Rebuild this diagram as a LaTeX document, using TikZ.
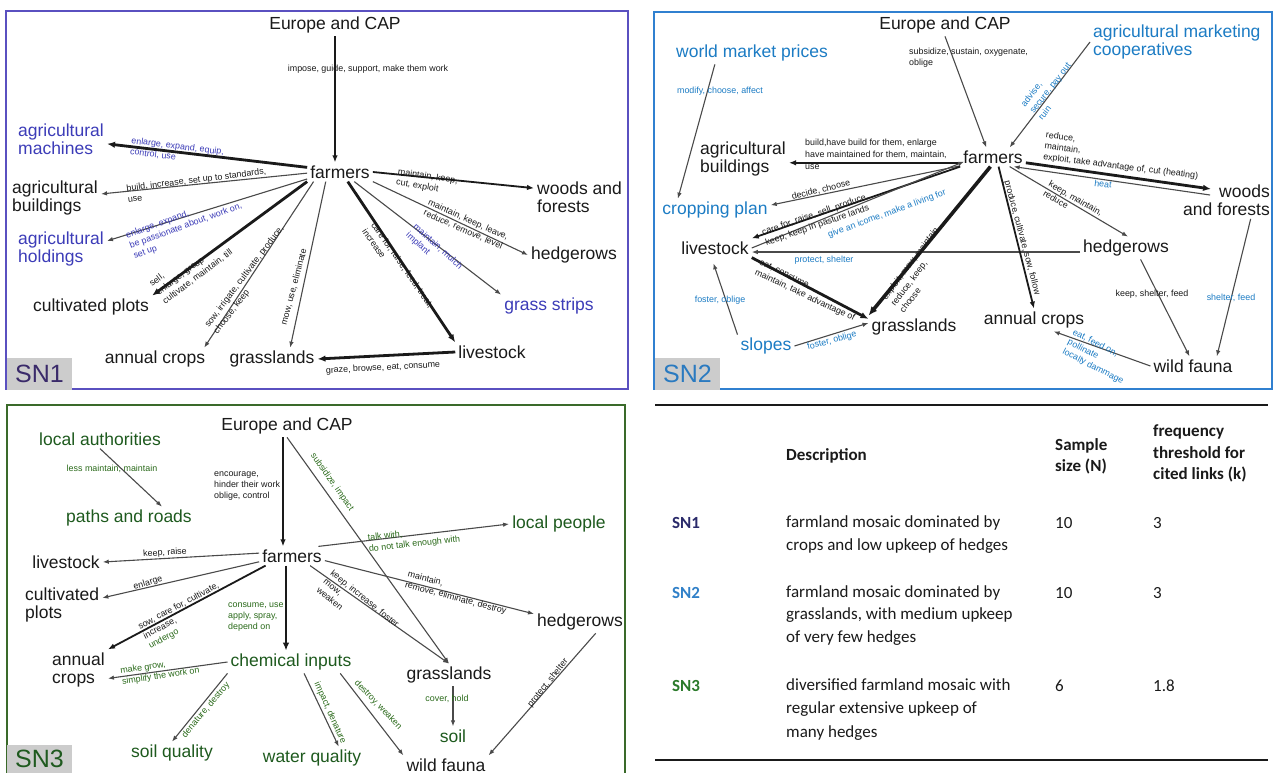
\documentclass[tikz,border=0pt]{standalone}
\usepackage{fontspec}
\setmainfont{Liberation Sans}
\newfontfamily\calfont{Carlito}
\usetikzlibrary{arrows.meta,calc}
\definecolor{bA}{HTML}{3C3CB8}
\definecolor{bB}{HTML}{1C7CC4}
\definecolor{gC}{HTML}{1E5A1E}
\definecolor{gL}{HTML}{2A6A1A}
\definecolor{frA}{HTML}{5A50C0}
\definecolor{frB}{HTML}{3080D0}
\definecolor{frC}{HTML}{3A6A2A}
\definecolor{ln}{HTML}{4A4A4A}
\definecolor{ink}{HTML}{1A1A1A}
\definecolor{snA}{HTML}{3A2A6A}
\definecolor{snB}{HTML}{2A7AC0}
\definecolor{snC}{HTML}{1F5A1F}
\definecolor{tA}{HTML}{2A2A6A}
\definecolor{tB}{HTML}{3080C8}
\definecolor{tC}{HTML}{2A7A2A}
\begin{document}
\begin{tikzpicture}[x=1pt,y=-1pt,
 nb/.style={font=\fontsize{17.5}{18.5}\selectfont, inner sep=3pt, text=ink, align=left},
 lab/.style={font=\fontsize{8.9}{11}\selectfont, inner sep=0pt, align=left, text=ink},
 thin/.style={draw=ln, line width=1.1pt, -{Latex[length=6pt,width=4.5pt]}},
 med/.style={draw=ink, line width=1.8pt, -{Latex[length=7pt,width=5.5pt]}},
 thk/.style={draw=ink, line width=2.8pt, -{Latex[length=8pt,width=6.5pt]}},
 vthk/.style={draw=ink, line width=3.6pt, -{Latex[length=9pt,width=7.5pt]}},
 panel/.style={line width=1.6pt},
 snlab/.style={fill=black!20, draw=none, minimum width=65pt, minimum height=32pt, inner sep=0pt, font=\fontsize{25}{25}\selectfont},
 tb/.style={font=\calfont\fontsize{17}{21.5}\selectfont, inner sep=0pt, anchor=west, align=left, text=ink},
]
\useasboundingbox (0,0) rectangle (1274,773);
\fill[white] (0,0) rectangle (1274,773);

% ---------------- panels ----------------
\draw[frA, panel] (6,11) rectangle (628,389);
\draw[frB, panel] (654,12) rectangle (1272,389);
\draw[frC, panel] (7,780) -- (7,405) -- (625,405) -- (625,780);
\node[snlab, text=snA] (sn1) at (39.5,374) {SN1};
\node[snlab, text=snB] (sn2) at (687.5,374) {SN2};
\node[snlab, text=snC, minimum height=28pt] (sn3) at (39.5,759) {SN3};

% ================= SN1 =================
\node[nb] (e1) at (335,25) {Europe and CAP};
\node[nb] (f1) at (340,172) {farmers};
\node[nb, text=bA, anchor=west] (m1) at (15,139) {agricultural\\machines};
\node[nb, anchor=west] (b1) at (9,198) {agricultural\\buildings};
\node[nb, text=bA, anchor=west] (h1) at (15,249) {agricultural\\holdings};
\node[nb] (c1) at (91,307) {cultivated plots};
\node[nb] (a1) at (155,359) {annual crops};
\node[nb] (g1) at (272,359) {grasslands};
\node[nb] (l1) at (492,352) {livestock};
\node[nb, anchor=west] (w1) at (534,197) {woods and\\forests};
\node[nb] (hg1) at (574,255) {hedgerows};
\node[nb, text=bA] (gs1) at (549,306) {grass strips};

\draw[med] (e1.south) -- (e1.south |- f1.north);
\draw[thk] (f1.172) -- (m1.-6);
\draw[thin] (f1.182) -- (b1.5);
\draw[thin] (f1.192) -- (h1.10);
\draw[thk] (f1.south west) -- (c1.north east);
\draw[thin] (f1.200) -- (a1.13);
\draw[thin] (f1.214) -- (g1.32);
\draw[thk] (f1.-51) -- (l1.north west);
\draw[thin] (f1.-34) -- (gs1.north west);
\draw[thin] (f1.south east) -- (hg1.west);
\draw[med] (f1.east) -- (w1.169);
\draw[thk] (l1.west) -- (g1.east);

\node[lab] (p1) at (368,69) {impose, guide, support, make them work};
\node[lab, text=bA, rotate=-7] (p2) at (177,152) {enlarge, expand, equip,\\control, use};
\node[lab, rotate=7] (p3) at (197,185) {build, increase, set up to standards,\\use};
\node[lab, text=bA, rotate=20] (p4) at (186,226) {enlarge, expand,\\be passionate about, work on,\\set up};
\node[lab, rotate=37] (p5) at (191,268) {sell,\\enlarge, group\\cultivate, maintain, till};
\node[lab, rotate=53] (p6) at (249,280) {sow, irrigate, cultivate, produce,\\choose, keep};
\node[lab, rotate=75] (p7) at (294,287) {mow, use, eliminate};
\node[lab, rotate=-55] (p8) at (398,268) {care for, raise, feed, treat,\\increase};
\node[lab, text=bA, rotate=-42] (p9) at (434,251) {maintain, mulch\\implant};
\node[lab, rotate=-24] (p10) at (466,225) {maintain, keep, leave,\\reduce, remove, level};
\node[lab, rotate=-9] (p11) at (427,182) {maintain, keep,\\cut, exploit};
\node[lab, rotate=3] (p12) at (383,368) {graze, browse, eat, consume};

% ================= SN2 =================
\node[nb] (e2) at (945,25) {Europe and CAP};
\node[nb, text=bB, anchor=west] (co) at (1090,42) {agricultural marketing\\cooperatives};
\node[nb, text=bB] (wm) at (752,53) {world market prices};
\node[nb] (f2) at (993,157) {farmers};
\node[nb, anchor=west] (b2) at (697,159) {agricultural\\buildings};
\node[nb, text=bB] (cp) at (715,210) {cropping plan};
\node[nb] (l2) at (715,248) {livestock};
\node[nb, anchor=east, align=right] (w2) at (1273,200) {woods\\and forests};
\node[nb] (hg2) at (1126,248) {hedgerows};
\node[nb] (gr2) at (914,327) {grasslands};
\node[nb] (ac2) at (1034,320) {annual crops};
\node[nb, text=bB] (sl) at (766,346) {slopes};
\node[nb] (wf2) at (1193,366) {wild fauna};

\draw[thin] (e2.south) -- (f2.125);
\draw[thin] (co.west) -- (f2.30);
\draw[thin] (wm.197) -- (cp.163);
\draw[med] (f2.190) -- (f2.190 -| b2.east);
\draw[thin] (f2.195) -- (cp.5);
\draw[med] (f2.south west) -- (l2.north east);
\coordinate (f2in) at ($(f2.south west)+(4,-5)$);
\draw[thin] (l2.east) -- (f2in);
\draw[thin] (hg2.185) -- (hg2.185 -| l2.east);
\coordinate (w2in) at ($(w2.west)+(31,-11)$);
\coordinate (w2out) at ($(w2.west)+(30,-5)$);
\draw[thk] (f2.-10) -- (w2in);
\draw[thin] (w2out) -- (f2.-25);
\draw[thin] (f2.-30) -- (hg2.80);
\draw[med] (f2.-60) -- (ac2.north);
\draw[vthk] (f2.-105) -- (gr2.north west);
\draw[thk] (l2.south east) -- (gr2.170);
\draw[thin, shorten >=6pt] (sl.north west) -- (l2.250);
\draw[thin] (sl.east) -- (gr2.175);
\draw[thin] (hg2.-38) -- (wf2.110);
\draw[thin] (w2.-38) -- (wf2.22);
\draw[thin] (wf2.west) -- (ac2.-30);

\node[lab, anchor=west] (q1) at (909,57.5) {subsidize, sustain, oxygenate,\\oblige};
\node[lab, text=bB, rotate=52] (q2) at (1050,88) {advise,\\secure, pay out\\ruin};
\node[lab, text=bB] (q3) at (720,91) {modify, choose, affect};
\node[lab, anchor=west, font=\fontsize{8.9}{12}\selectfont] (q4) at (805,154) {build,have build for them, enlarge\\have maintained for them, maintain,\\use};
\node[lab, rotate=14] (q5) at (821,190) {decide, choose};
\node[lab, rotate=19] (q6) at (817,220) {care for, raise, sell, produce,\\keep, keep in pasture lands};
\node[lab, text=bB, rotate=20] (q7) at (887,214) {give an icome, make a living for};
\node[lab, text=bB] (q8) at (824,260) {protect, shelter};
\node[lab, rotate=-7] (q9) at (1122,156) {reduce,\\maintain,\\exploit, take advantage of, cut (heating)};
\node[lab, text=bB, rotate=-7] (q10) at (1103,184) {heat};
\node[lab, rotate=-30] (q11) at (1073,203) {keep, maintain,\\reduce};
\node[lab, rotate=-75] (q12) at (1022,238) {produce, cultivate, sow, follow};
\node[lab, rotate=53] (q13) at (919,270) {exploit, mow, maintain\\reduce, keep,\\choose};
\node[lab, rotate=-25] (q14) at (807,291) {eat, consume,\\maintain, take advantage of};
\node[lab, text=bB] (q15) at (720,300) {foster, oblige};
\node[lab, text=bB, rotate=15] (q16) at (832,341) {foster, oblige};
\node[lab] (q17) at (1152,294) {keep, shelter, feed};
\node[lab, text=bB] (q18) at (1231,298) {shelter, feed};
\node[lab, text=bB, rotate=-27] (q19) at (1098,357) {eat, feed on,\\pollinate\\locally dammage};

% ================= SN3 =================
\node[nb, text=gC] (la) at (100,439) {local authorities};
\node[nb, text=gC] (pr) at (129,518) {paths and roads};
\node[nb] (e3) at (287,426) {Europe and CAP};
\node[nb] (f3) at (292,556) {farmers};
\node[nb, text=gC] (lp) at (559,524) {local people};
\node[nb] (ls3) at (66,562) {livestock};
\node[nb, anchor=west] (cp3) at (22,605) {cultivated\\plots};
\node[nb, anchor=west] (ac3) at (49,670) {annual\\crops};
\node[nb, text=gC] (ci) at (291,662) {chemical inputs};
\node[nb] (gr3) at (449,675) {grasslands};
\node[nb, text=gC] (so) at (453,736) {soil};
\node[nb] (hg3) at (580,622) {hedgerows};
\node[nb, text=gC] (sq) at (172,753) {soil quality};
\node[nb, text=gC] (wq) at (312,758) {water quality};
\node[nb] (wf3) at (446,765) {wild fauna};

\draw[thin] (la.south) -- (pr.19);
\coordinate (e3s) at ($(e3.south)+(-4,0)$);
\draw[med] (e3s) -- (e3s |- f3.north);
\draw[thin] (e3.south) -- (gr3.north);
\draw[thin] (f3.20) -- (lp.west);
\draw[thin] (f3.-8) -- (hg3.170);
\draw[thin] (f3.-28) -- (gr3.north);
\draw[thin] (f3.175) -- (ls3.east);
\draw[thin] (f3.190) -- (cp3.10);
\draw[med] (f3.200) -- (ac3.north east);
\coordinate (f3s) at ($(f3.south)+(-6,0)$);
\draw[thk] (f3s) -- (f3s |- ci.north);
\draw[thin] (ci.west) -- (ac3.-16);
\draw[thin] (ci.south west) -- (sq.north);
\draw[thin] (ci.-41) -- (wq.23);
\draw[thin] (ci.-13) -- (wf3.north west);
\draw[thin] (gr3.south -| so.north) -- (so.north);
\draw[thin] (hg3.-36) -- (wf3.north east);

\node[lab, text=gL] (r1) at (112,469) {less maintain, maintain};
\node[lab, anchor=west] (r2) at (214,486) {encourage,\\hinder their work\\oblige, control};
\node[lab, text=gL, rotate=-55] (r3) at (332,482) {subsidize, impact};
\node[lab, text=gL, rotate=6] (r4) at (414,539) {talk with,\\do not talk enough with};
\node[lab, rotate=-15] (r5) at (457,593) {maintain,\\remove, eliminate, destroy};
\node[lab, rotate=-39] (r6) at (358,607) {keep, increase, foster\\mow,\\weaken};
\node[lab, rotate=4] (r7) at (165,553) {keep, raise};
\node[lab, rotate=17] (r8) at (148,583) {enlarge};
\node[lab, rotate=28] (r9) at (184,616) {sow, care for, cultivate,\\increase,\\\textcolor{gL}{undergo}};
\node[lab, text=gL, anchor=west] (r10) at (228,617) {consume, use\\apply, spray,\\depend on};
\node[lab, text=gL, rotate=8.5] (r11) at (160,671) {make grow,\\simplify the work on};
\node[lab, text=gL, rotate=50] (r12) at (206,710) {denature, destroy};
\node[lab, text=gL, rotate=-66] (r13) at (330,713) {impact, denature};
\node[lab, text=gL, rotate=-46] (r14) at (378,705) {destroy, weaken};
\node[lab, text=gL] (r15) at (447,699) {cover, hold};
\node[lab, rotate=51] (r16) at (548,683) {protect, shelter};

% ================= table =================
\draw[line width=2pt, ink] (655,405) -- (1268,405);
\draw[line width=2pt, ink] (655,760) -- (1268,760);
\node[tb, font=\calfont\bfseries\fontsize{17}{21.5}\selectfont] (t1) at (786,456) {Description};
\node[tb, font=\calfont\bfseries\fontsize{17}{21}\selectfont] (t2) at (1055,456.5) {Sample\\size (N)};
\node[tb, font=\calfont\bfseries\fontsize{17}{21.5}\selectfont] (t3) at (1153,453.5) {frequency\\threshold for\\cited links (k)};
\node[tb, font=\calfont\bfseries\fontsize{17}{21.5}\selectfont, text=tA] (t4) at (672,523) {SN1};
\node[tb, font=\calfont\fontsize{17}{23}\selectfont] (t5) at (786,534.5) {farmland mosaic dominated by\\crops and low upkeep of hedges};
\node[tb] (t6) at (1055,523) {10};
\node[tb] (t7) at (1153,523) {3};
\node[tb, font=\calfont\bfseries\fontsize{17}{21.5}\selectfont, text=tB] (t8) at (672,593) {SN2};
\node[tb, font=\calfont\fontsize{17}{22.5}\selectfont] (t9) at (786,615.5) {farmland mosaic dominated by\\grasslands, with medium upkeep\\of very few hedges};
\node[tb] (t10) at (1055,593) {10};
\node[tb] (t11) at (1153,593) {3};
\node[tb, font=\calfont\bfseries\fontsize{17}{21.5}\selectfont, text=tC] (t12) at (672,686) {SN3};
\node[tb, font=\calfont\fontsize{17}{23.5}\selectfont] (t13) at (786,709.5) {diversified farmland mosaic with\\regular extensive upkeep of\\many hedges};
\node[tb] (t14) at (1055,686) {6};
\node[tb] (t15) at (1153,686) {1.8};
\end{tikzpicture}
\end{document}
